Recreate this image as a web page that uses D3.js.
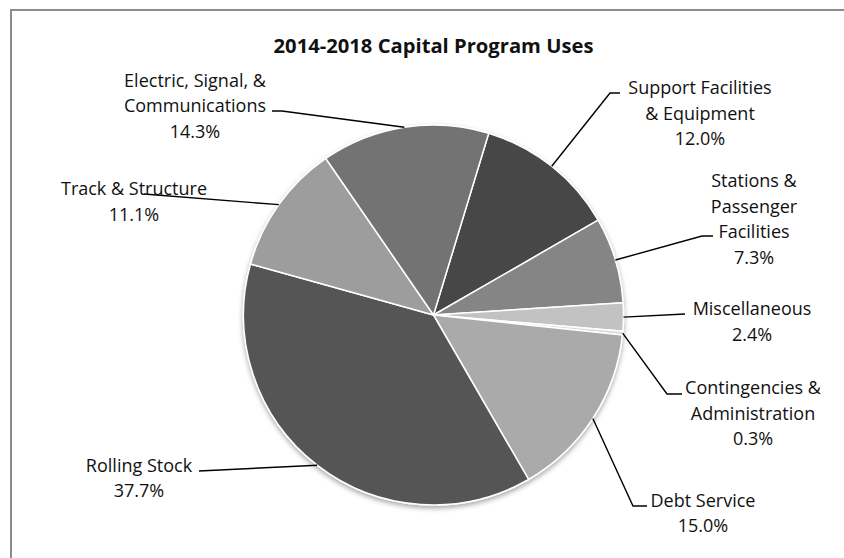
<!DOCTYPE html>
<html>
<head>
<meta charset="utf-8">
<script src="https://cdn.jsdelivr.net/npm/d3@7"></script>
<style>
  html, body { margin: 0; padding: 0; background: #fff; }
  svg { display: block; }
  text { font-family: "Open Sans", "DejaVu Sans", sans-serif; fill: #111; }
</style>
</head>
<body>
<svg id="chart" width="844" height="558"></svg>
<script>
// Capital program uses, clockwise from the first slice
const categories = [
  "Support Facilities & Equipment",
  "Stations & Passenger Facilities",
  "Miscellaneous",
  "Contingencies & Administration",
  "Debt Service",
  "Rolling Stock",
  "Track & Structure",
  "Electric, Signal, & Communications"
];
const values = [12.0, 7.3, 2.4, 0.3, 15.0, 37.7, 11.1, 14.3];
const labelLines = [
  ["Support Facilities", "& Equipment"],
  ["Stations &", "Passenger", "Facilities"],
  ["Miscellaneous"],
  ["Contingencies &", "Administration"],
  ["Debt Service"],
  ["Rolling Stock"],
  ["Track & Structure"],
  ["Electric, Signal, &", "Communications"]
];
const title = "2014-2018 Capital Program Uses";

// Styling and label placement
const sliceColors = ["#474747", "#858585", "#c2c2c2", "#dcdcdc", "#aaaaaa", "#555555", "#9d9d9d", "#737373"];
// text centre x, first baseline y, leader start and optional elbow
const labelLayout = [
  { x: 700, y: 94,    start: [620, 93],  elbow: [610, 93] },
  { x: 754, y: 187,   start: [713, 236], elbow: [702, 236] },
  { x: 752, y: 315,   start: [685, 314], elbow: null },
  { x: 753, y: 394,   start: [682, 394], elbow: [667, 394] },
  { x: 703, y: 506.5, start: [647, 506], elbow: [633, 506] },
  { x: 139, y: 471.5, start: [199, 471], elbow: null },
  { x: 134, y: 195,   start: [144, 194], elbow: null },
  { x: 195, y: 86.5,  start: [272, 111], elbow: [282, 111] }
];
const lineGap = 25.5;

const svg = d3.select("#chart");

// drop shadow under the pie
const defs = svg.append("defs");
const f = defs.append("filter").attr("id", "pieShadow")
  .attr("x", "-10%").attr("y", "-10%").attr("width", "120%").attr("height", "120%");
f.append("feDropShadow").attr("dx", 0).attr("dy", 2.5)
  .attr("stdDeviation", 2.5).attr("flood-color", "#000").attr("flood-opacity", 0.35);

// chart frame
svg.append("rect").attr("x", 11).attr("y", 10).attr("width", 900).attr("height", 600)
  .attr("fill", "none").attr("stroke", "#8c8c8c").attr("stroke-width", 2);

svg.append("text").attr("x", 433.5).attr("y", 53).attr("text-anchor", "middle")
  .style("font-size", "20.2px").style("font-weight", "bold").text(title);

const cx = 433.5, cy = 315, r = 190;
const start = 16.9 * Math.PI / 180;
const pie = d3.pie().sort(null).value(d => d).startAngle(start).endAngle(start + 2 * Math.PI);
const arcs = pie(values);
const arc = d3.arc().innerRadius(0).outerRadius(r);
const rim = d3.arc().innerRadius(r).outerRadius(r);

const g = svg.append("g").attr("transform", `translate(${cx},${cy})`);
g.append("g").attr("filter", "url(#pieShadow)")
  .selectAll("path").data(arcs).join("path")
  .attr("d", arc)
  .attr("fill", (d, i) => sliceColors[i])
  .attr("stroke", "#fff").attr("stroke-width", 1.5).attr("stroke-linejoin", "round");

// leader lines
const line = d3.line();
arcs.forEach((d, i) => {
  const L = labelLayout[i];
  const c = rim.centroid(d);
  const pts = [L.start];
  if (L.elbow) pts.push(L.elbow);
  pts.push([cx + c[0], cy + c[1]]);
  svg.append("path").attr("d", line(pts)).attr("fill", "none")
    .attr("stroke", "#000").attr("stroke-width", 1.4);
});

// labels: category lines then the percentage
const fmt = d3.format(".1f");
arcs.forEach((d, i) => {
  const L = labelLayout[i];
  const lines = labelLines[i].concat([fmt(values[i]) + "%"]);
  const t = svg.append("text").attr("text-anchor", "middle").style("font-size", "18px");
  lines.forEach((s, k) => {
    t.append("tspan").attr("x", L.x).attr("y", L.y + k * lineGap).text(s);
  });
});
</script>
</body>
</html>
